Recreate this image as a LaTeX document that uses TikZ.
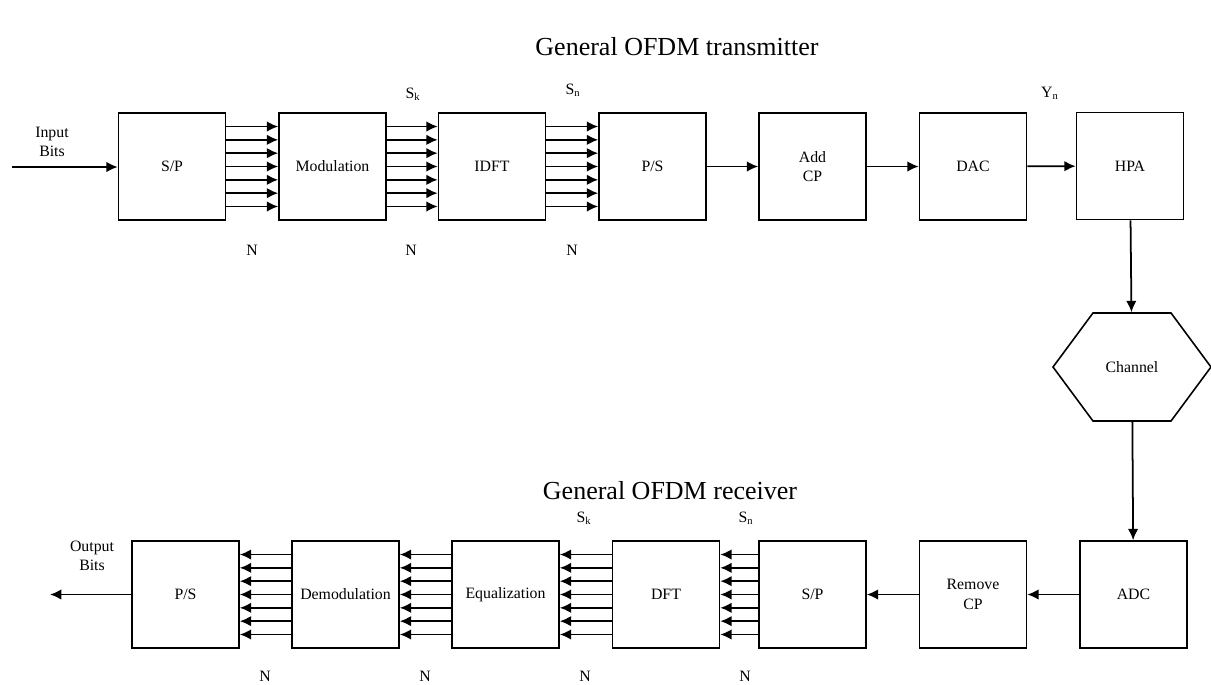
\documentclass[tikz,border=0pt]{standalone}
\usepackage{fontspec}
\setmainfont{Liberation Serif}
\usetikzlibrary{arrows.meta,positioning,shapes.symbols}

% one bundle of N parallel lines between two anchors
\newcommand{\bundle}[2]{%
  \draw[sig] ([yshift=0.8cm]#1) -- ([yshift=0.8cm]#2);
  \draw[sig] ([yshift=0.5333cm]#1) -- ([yshift=0.5333cm]#2);
  \draw[sig] ([yshift=0.2667cm]#1) -- ([yshift=0.2667cm]#2);
  \draw[sig] (#1) -- (#2);
  \draw[sig] ([yshift=-0.2667cm]#1) -- ([yshift=-0.2667cm]#2);
  \draw[sig] ([yshift=-0.5333cm]#1) -- ([yshift=-0.5333cm]#2);
  \draw[sig] ([yshift=-0.8cm]#1) -- ([yshift=-0.8cm]#2);
}

\begin{document}
\begin{tikzpicture}[x=0.02cm, y=-0.02cm, font=\fontsize{9}{11}\selectfont,
  block/.style={draw, line width=0.9pt, minimum width=2.14cm, minimum height=2.14cm, align=center},
  sig/.style={-{Latex[length=6.5pt,width=6pt]}, line width=1pt},
  title/.style={font=\fontsize{14.8}{17}\selectfont}]
  \useasboundingbox (0,0) rectangle (1211,684);

  % Transmitter chain
  \node[title] (txtitle) at (677,47) {General OFDM transmitter};
  \node[block] (txsp)  at (172,166.5)    {S/P};
  \node[block] (mod)   at (332.5,166.5)  {Modulation};
  \node[block] (idft)  at (492,166.5)    {IDFT};
  \node[block] (txps)  at (652.5,166.5)  {P/S};
  \node[block] (addcp) at (812.5,166.5)  {Add\\CP};
  \node[block] (dac)   at (973,166.5)    {DAC};
  \node[block] (hpa)   at (1130,166)     {HPA};

  \node[align=center] (inbits) at (52,142) {Input\\Bits};
  \coordinate (in) at (12,167);
  \draw[sig] (in) -- (in -| txsp.west);
  \bundle{txsp.east}{mod.west}
  \bundle{mod.east}{idft.west}
  \bundle{idft.east}{txps.west}
  \draw[sig] (txps) -- (addcp);
  \draw[sig] (addcp) -- (dac);
  \draw[sig] (dac) -- (hpa);

  \node (txsk) at (413,94)  {S\textsubscript{k}};
  \node (txsn) at (573,90)  {S\textsubscript{n}};
  \node (yn)   at (1050,93) {Y\textsubscript{n}};
  \node (txn1) at (252,250) {N};
  \node (txn2) at (411,250) {N};
  \node (txn3) at (572,250) {N};

  % Channel
  \node[draw, line width=0.9pt, signal, signal to=east and west, signal pointer angle=107,
        minimum width=3.16cm, minimum height=2.16cm] (chan) at (1132,367) {Channel};
  \draw[sig] (hpa) -- (chan);

  % Receiver chain
  \node[title] (rxtitle) at (670,491) {General OFDM receiver};
  \node[block] (adc)   at (1133.5,594.5) {ADC};
  \node[block] (rmcp)  at (973,594.5)    {Remove\\CP};
  \node[block] (rxsp)  at (812.5,594.5)  {S/P};
  \node[block] (dft)   at (666,594.5)    {DFT};
  \node[block] (equ)   at (505.5,594.5)  {Equalization};
  \node[block] (demod) at (345.5,594.5)  {Demodulation};
  \node[block] (rxps)  at (185.5,594.5)  {P/S};

  \draw[sig] (chan) -- (adc);
  \draw[sig] (adc) -- (rmcp);
  \draw[sig] (rmcp) -- (rxsp);
  \bundle{rxsp.west}{dft.east}
  \bundle{dft.west}{equ.east}
  \bundle{equ.west}{demod.east}
  \bundle{demod.west}{rxps.east}
  \coordinate (out) at (50,594.5);
  \draw[sig] (rxps) -- (out);
  \node[align=center] (outbits) at (92,556) {Output\\Bits};

  \node (rxsk) at (584,518) {S\textsubscript{k}};
  \node (rxsn) at (746,518) {S\textsubscript{n}};
  \node (rxn1) at (265,676) {N};
  \node (rxn2) at (425,676) {N};
  \node (rxn3) at (585,676) {N};
  \node (rxn4) at (745,676) {N};
\end{tikzpicture}
\end{document}
